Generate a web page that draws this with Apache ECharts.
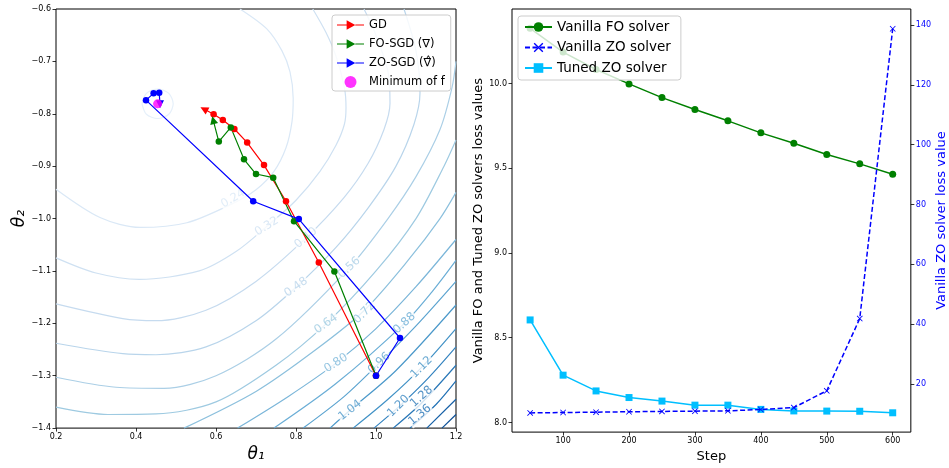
<!DOCTYPE html>
<html>
<head>
<meta charset="utf-8">
<script src="https://cdn.jsdelivr.net/npm/echarts@6/dist/echarts.min.js"></script>
<style>
html, body { margin: 0; padding: 0; background: #fff; }
#main { width: 949px; height: 468px; }
</style>
</head>
<body>
<div id="main"></div>
<script>
// ---- left panel: contour levels of f and the three descent paths ----
var contourLevels = [0.16, 0.24, 0.32, 0.40, 0.48, 0.56, 0.64, 0.72, 0.80, 0.88, 0.96, 1.04, 1.12, 1.20, 1.28, 1.36, 1.44, 1.52];
var contourLines = [
    [[0.415,-0.781],[0.426,-0.761],[0.454,-0.753],[0.482,-0.761],[0.493,-0.781],[0.482,-0.801],[0.454,-0.809],[0.426,-0.801],[0.415,-0.781]],
    [[0.2,-0.944],[0.31,-0.998],[0.41,-1.017],[0.527,-1.008],[0.64,-0.972],[0.70,-0.945],[0.745,-0.91],[0.775,-0.865],[0.79,-0.815],[0.793,-0.771],[0.785,-0.72],[0.765,-0.68],[0.727,-0.638],[0.66,-0.6]],
    [[0.2,-1.075],[0.3,-1.104],[0.408,-1.116],[0.558,-1.1],[0.65,-1.063],[0.727,-1.015],[0.8,-0.965],[0.86,-0.91],[0.9,-0.86],[0.921,-0.82],[0.925,-0.788],[0.921,-0.75],[0.9,-0.69],[0.875,-0.645],[0.842,-0.6]],
    [[0.2,-1.163],[0.367,-1.191],[0.45,-1.195],[0.575,-1.175],[0.7,-1.12],[0.825,-1.037],[0.92,-0.96],[0.98,-0.895],[1.02,-0.83],[1.035,-0.78],[1.03,-0.72],[1.0,-0.65],[0.97,-0.6]],
    [[0.2,-1.238],[0.367,-1.258],[0.45,-1.26],[0.575,-1.245],[0.7,-1.195],[0.8,-1.131],[0.9,-1.055],[0.98,-0.98],[1.05,-0.9],[1.095,-0.82],[1.11,-0.76],[1.1,-0.68],[1.07,-0.6]],
    [[0.2,-1.303],[0.35,-1.322],[0.47,-1.324],[0.6,-1.3],[0.75,-1.23],[0.933,-1.094],[1.03,-1.0],[1.1,-0.92],[1.16,-0.83],[1.19,-0.75],[1.2,-0.7]],
    [[0.2,-1.36],[0.33,-1.374],[0.45,-1.373],[0.6,-1.35],[0.75,-1.28],[0.875,-1.201],[1.0,-1.1],[1.1,-1.0],[1.17,-0.9],[1.2,-0.85]],
    [[0.52,-1.4],[0.7,-1.33],[0.85,-1.25],[0.971,-1.175],[1.08,-1.08],[1.16,-1.0],[1.2,-0.95]],
    [[0.654,-1.4],[0.78,-1.34],[0.9,-1.276],[1.0,-1.21],[1.1,-1.13],[1.2,-1.04]],
    [[0.745,-1.4],[0.9,-1.315],[1.071,-1.2],[1.14,-1.14],[1.2,-1.08]],
    [[0.818,-1.4],[0.92,-1.34],[1.008,-1.276],[1.1,-1.205],[1.2,-1.12]],
    [[0.885,-1.4],[0.935,-1.366],[1.05,-1.29],[1.2,-1.165]],
    [[0.943,-1.4],[1.03,-1.345],[1.114,-1.284],[1.2,-1.21]],
    [[0.995,-1.4],[1.056,-1.36],[1.13,-1.305],[1.2,-1.245]],
    [[1.043,-1.4],[1.114,-1.352],[1.2,-1.28]],
    [[1.085,-1.4],[1.15,-1.355],[1.2,-1.31]],
    [[1.127,-1.4],[1.2,-1.345]],
    [[1.165,-1.4],[1.2,-1.374]]
];
var contourLabelText = ['0.24','0.32','0.40','0.48','0.56','0.64','0.72','0.80','0.88','0.96','1.04','1.12','1.20','1.28','1.36'];
var contourLabelAt = [[0.6425,-0.962],[0.727,-1.015],[0.825,-1.037],[0.8,-1.131],[0.933,-1.094],[0.875,-1.201],[0.971,-1.18],[0.9,-1.276],[1.071,-1.2],[1.008,-1.276],[0.935,-1.366],[1.114,-1.284],[1.056,-1.358],[1.114,-1.34],[1.11,-1.375]];

var gdTheta1 = [1.0, 0.857, 0.775, 0.72, 0.678, 0.646, 0.617, 0.594, 0.57];
var gdTheta2 = [-1.3, -1.084, -0.967, -0.898, -0.855, -0.829, -0.812, -0.801, -0.791];
var foTheta1 = [1.0, 0.896, 0.795, 0.743, 0.70, 0.67, 0.637, 0.607, 0.593];
var foTheta2 = [-1.3, -1.101, -1.005, -0.922, -0.915, -0.887, -0.826, -0.853, -0.812];
var zoTheta1 = [1.0, 1.06, 0.807, 0.693, 0.425, 0.444, 0.458, 0.46];
var zoTheta2 = [-1.3, -1.228, -1.001, -0.967, -0.774, -0.761, -0.760, -0.782];
var minTheta = [0.454, -0.781];

// ---- right panel: loss per step ----
var steps = [50, 100, 150, 200, 250, 300, 350, 400, 450, 500, 550, 600];
var foLoss = [10.326, 10.186, 10.083, 9.998, 9.917, 9.847, 9.780, 9.709, 9.648, 9.581, 9.526, 9.465];
var tunedZoLoss = [8.605, 8.279, 8.186, 8.147, 8.126, 8.102, 8.102, 8.077, 8.068, 8.067, 8.066, 8.057];
var vanillaZoLoss = [10.4, 10.55, 10.65, 10.8, 10.9, 11.0, 11.1, 11.55, 12.2, 17.8, 41.9, 138.7];
var stepTicks = [100, 200, 300, 400, 500, 600];
var lossTicks = [8.0, 8.5, 9.0, 9.5, 10.0];
var zoTicks = [20, 40, 60, 80, 100, 120, 140];

// styles
var contourColors = ['#e6f0fa','#dae8f6','#cfe1f2','#c6dbef','#b9d5eb','#abcfe6','#9ecae1','#8cc0dd','#7bb6d9','#6baed6','#5ca4d0','#4c99ca','#4292c6','#3584c0','#2a78b8','#2171b5','#145fa6','#0b4f96'];
var contourLabelRotate = [30, 32, 40, 35, 42, 35, 45, 33, 42, 42, 38, 45, 45, 42, 40];
var FONT = 'DejaVu Sans';
var triPath = 'path://M0,4.4L10,4.4L10,0L19,5L10,10L10,5.6L0,5.6ZM19,4.4L28,4.4L28,5.6L19,5.6Z';
var crossPath = 'path://M0,1L1,0L5,4L9,0L10,1L6,5L10,9L9,10L5,6L1,10L0,9L4,5Z';

function signed(v, d) {
    return (v < 0 ? '\u2212' : '') + Math.abs(v).toFixed(d);
}
function pairs(a, b) {
    return a.map(function (v, i) { return [v, b[i]]; });
}
function withArrow(data, rotate) {
    var out = data.map(function (p) { return { value: p }; });
    out[out.length - 1] = { value: data[data.length - 1], symbol: 'triangle', symbolSize: 8, symbolRotate: rotate };
    return out;
}

var myChart = echarts.init(document.getElementById('main'));

var series = [];
contourLevels.forEach(function (lv, i) {
    series.push({
        type: 'line',
        xAxisIndex: 0,
        yAxisIndex: 0,
        data: contourLines[i],
        symbol: 'none',
        smooth: 0.3,
        silent: true,
        z: 1,
        lineStyle: { color: contourColors[i], width: 1.2 }
    });
});
// inline contour labels (white box hides the line under the text)
series.push({
    type: 'scatter',
    xAxisIndex: 0,
    yAxisIndex: 0,
    silent: true,
    z: 2,
    symbolSize: 1,
    itemStyle: { color: 'rgba(0,0,0,0)' },
    data: contourLabelAt.map(function (p, i) {
        return {
            value: p,
            label: {
                show: true,
                position: 'inside',
                formatter: contourLabelText[i],
                rotate: contourLabelRotate[i],
                color: contourColors[i + 1],
                fontSize: 11.5,
                fontFamily: FONT,
                backgroundColor: '#fff',
                padding: [0, 1]
            }
        };
    })
});
series.push({
    name: 'GD', type: 'line', xAxisIndex: 0, yAxisIndex: 0, z: 3,
    data: withArrow(pairs(gdTheta1, gdTheta2), 62),
    symbol: 'circle', symbolSize: 6.5,
    lineStyle: { color: '#ff0000', width: 1.2 }, itemStyle: { color: '#ff0000' }
});
series.push({
    name: 'FO-SGD (\u2207)', type: 'line', xAxisIndex: 0, yAxisIndex: 0, z: 3,
    data: withArrow(pairs(foTheta1, foTheta2), 14),
    symbol: 'circle', symbolSize: 6.5,
    lineStyle: { color: '#008000', width: 1.2 }, itemStyle: { color: '#008000' }
});
series.push({
    name: 'ZO-SGD (\u2207\u0302)', type: 'line', xAxisIndex: 0, yAxisIndex: 0, z: 3,
    data: withArrow(pairs(zoTheta1, zoTheta2), 180),
    symbol: 'circle', symbolSize: 6.5,
    lineStyle: { color: '#0000ff', width: 1.2 }, itemStyle: { color: '#0000ff' }
});
series.push({
    name: 'Minimum of f', type: 'scatter', xAxisIndex: 0, yAxisIndex: 0, z: 4,
    data: [minTheta], symbolSize: 9,
    itemStyle: { color: '#ff00ff', opacity: 0.8 }
});

series.push({
    name: 'Vanilla FO solver', type: 'line', xAxisIndex: 1, yAxisIndex: 1, z: 3,
    data: pairs(steps, foLoss), symbol: 'circle', symbolSize: 7,
    lineStyle: { color: '#008000', width: 1.5 }, itemStyle: { color: '#008000' }
});
series.push({
    name: 'Tuned ZO solver', type: 'line', xAxisIndex: 1, yAxisIndex: 1, z: 3,
    data: pairs(steps, tunedZoLoss), symbol: 'rect', symbolSize: 7,
    lineStyle: { color: '#00bfff', width: 1.5 }, itemStyle: { color: '#00bfff' }
});
series.push({
    name: 'Vanilla ZO solver', type: 'line', xAxisIndex: 1, yAxisIndex: 2, z: 4,
    data: pairs(steps, vanillaZoLoss), symbol: crossPath, symbolSize: 6,
    lineStyle: { color: '#0000ff', width: 1.5, type: [5, 2.5] }, itemStyle: { color: '#0000ff' }
});

var tickStyle = { show: true, length: 3.5, lineStyle: { color: '#000', width: 0.8 } };
var labelStyle = { fontSize: 8, color: '#000', fontFamily: FONT, margin: 5 };

var option = {
    animation: false,
    textStyle: { fontFamily: FONT },
    grid: [
        { left: 56, right: 493, top: 9, bottom: 35, show: true, borderColor: '#000', borderWidth: 1 },
        { left: 512, right: 37, top: 9, bottom: 35, show: true, borderColor: '#000', borderWidth: 1 }
    ],
    legend: [
        {
            left: 332, top: 15, orient: 'vertical', z: 10,
            padding: [4, 6, 3, 5], itemGap: 7, itemWidth: 27, itemHeight: 12,
            backgroundColor: 'rgba(255,255,255,0.85)', borderColor: '#cccccc', borderWidth: 1, borderRadius: 3,
            textStyle: { fontSize: 11.5, color: '#000', fontFamily: FONT },
            data: [
                { name: 'GD', icon: triPath, itemStyle: { color: '#ff0000' } },
                { name: 'FO-SGD (\u2207)', icon: triPath, itemStyle: { color: '#008000' } },
                { name: 'ZO-SGD (\u2207\u0302)', icon: triPath, itemStyle: { color: '#0000ff' } },
                { name: 'Minimum of f', icon: 'circle', itemStyle: { color: '#ff00ff' } }
            ]
        },
        {
            left: 518, top: 16, orient: 'vertical', z: 10,
            padding: [4, 10, 5, 6], itemGap: 6.5, itemWidth: 27, itemHeight: 12,
            backgroundColor: 'rgba(255,255,255,0.8)', borderColor: '#cccccc', borderWidth: 1, borderRadius: 3,
            textStyle: { fontSize: 13.5, color: '#000', fontFamily: FONT },
            data: ['Vanilla FO solver', 'Vanilla ZO solver', 'Tuned ZO solver']
        }
    ],
    xAxis: [
        {
            gridIndex: 0, type: 'value', min: 0.2, max: 1.2, interval: 0.2,
            axisLine: { show: false }, axisTick: tickStyle, splitLine: { show: false },
            axisLabel: Object.assign({}, labelStyle, { formatter: function (v) { return signed(v, 1); } }),
            name: '\u03b8\u2081', nameLocation: 'middle', nameGap: 17,
            nameTextStyle: { fontSize: 17, fontStyle: 'italic', color: '#000', fontFamily: FONT }
        },
        {
            gridIndex: 1, type: 'value', min: 22.5, max: 627.5,
            axisLine: { show: false }, splitLine: { show: false },
            axisTick: Object.assign({ customValues: stepTicks }, tickStyle),
            axisLabel: Object.assign({ customValues: stepTicks }, labelStyle),
            name: 'Step', nameLocation: 'middle', nameGap: 16,
            nameTextStyle: { fontSize: 13, color: '#000', fontFamily: FONT }
        }
    ],
    yAxis: [
        {
            gridIndex: 0, type: 'value', min: -1.4, max: -0.6, interval: 0.1,
            axisLine: { show: false }, axisTick: tickStyle, splitLine: { show: false },
            axisLabel: Object.assign({}, labelStyle, { formatter: function (v) { return signed(v, 1); } }),
            name: '\u03b8\u2082', nameLocation: 'middle', nameGap: 27, nameRotate: 90,
            nameTextStyle: { fontSize: 17, fontStyle: 'italic', color: '#000', fontFamily: FONT }
        },
        {
            gridIndex: 1, type: 'value', min: 7.943, max: 10.44,
            axisLine: { show: false }, splitLine: { show: false },
            axisTick: Object.assign({ customValues: lossTicks }, tickStyle),
            axisLabel: Object.assign({ customValues: lossTicks }, labelStyle, { formatter: function (v) { return v.toFixed(1); } }),
            name: 'Vanilla FO and Tuned ZO solvers loss values', nameLocation: 'middle', nameGap: 27, nameRotate: 90,
            nameTextStyle: { fontSize: 13, color: '#000', fontFamily: FONT }
        },
        {
            gridIndex: 1, type: 'value', position: 'right', min: 4.0, max: 145.3,
            axisLine: { show: false }, splitLine: { show: false },
            axisTick: Object.assign({ customValues: zoTicks }, tickStyle),
            axisLabel: Object.assign({ customValues: zoTicks }, labelStyle, { color: '#0000ff' }),
            name: 'Vanilla ZO solver loss value', nameLocation: 'middle', nameGap: 24, nameRotate: 90,
            nameTextStyle: { fontSize: 13, color: '#0000ff', fontFamily: FONT }
        }
    ],
    series: series
};

myChart.setOption(option);
</script>
</body>
</html>
